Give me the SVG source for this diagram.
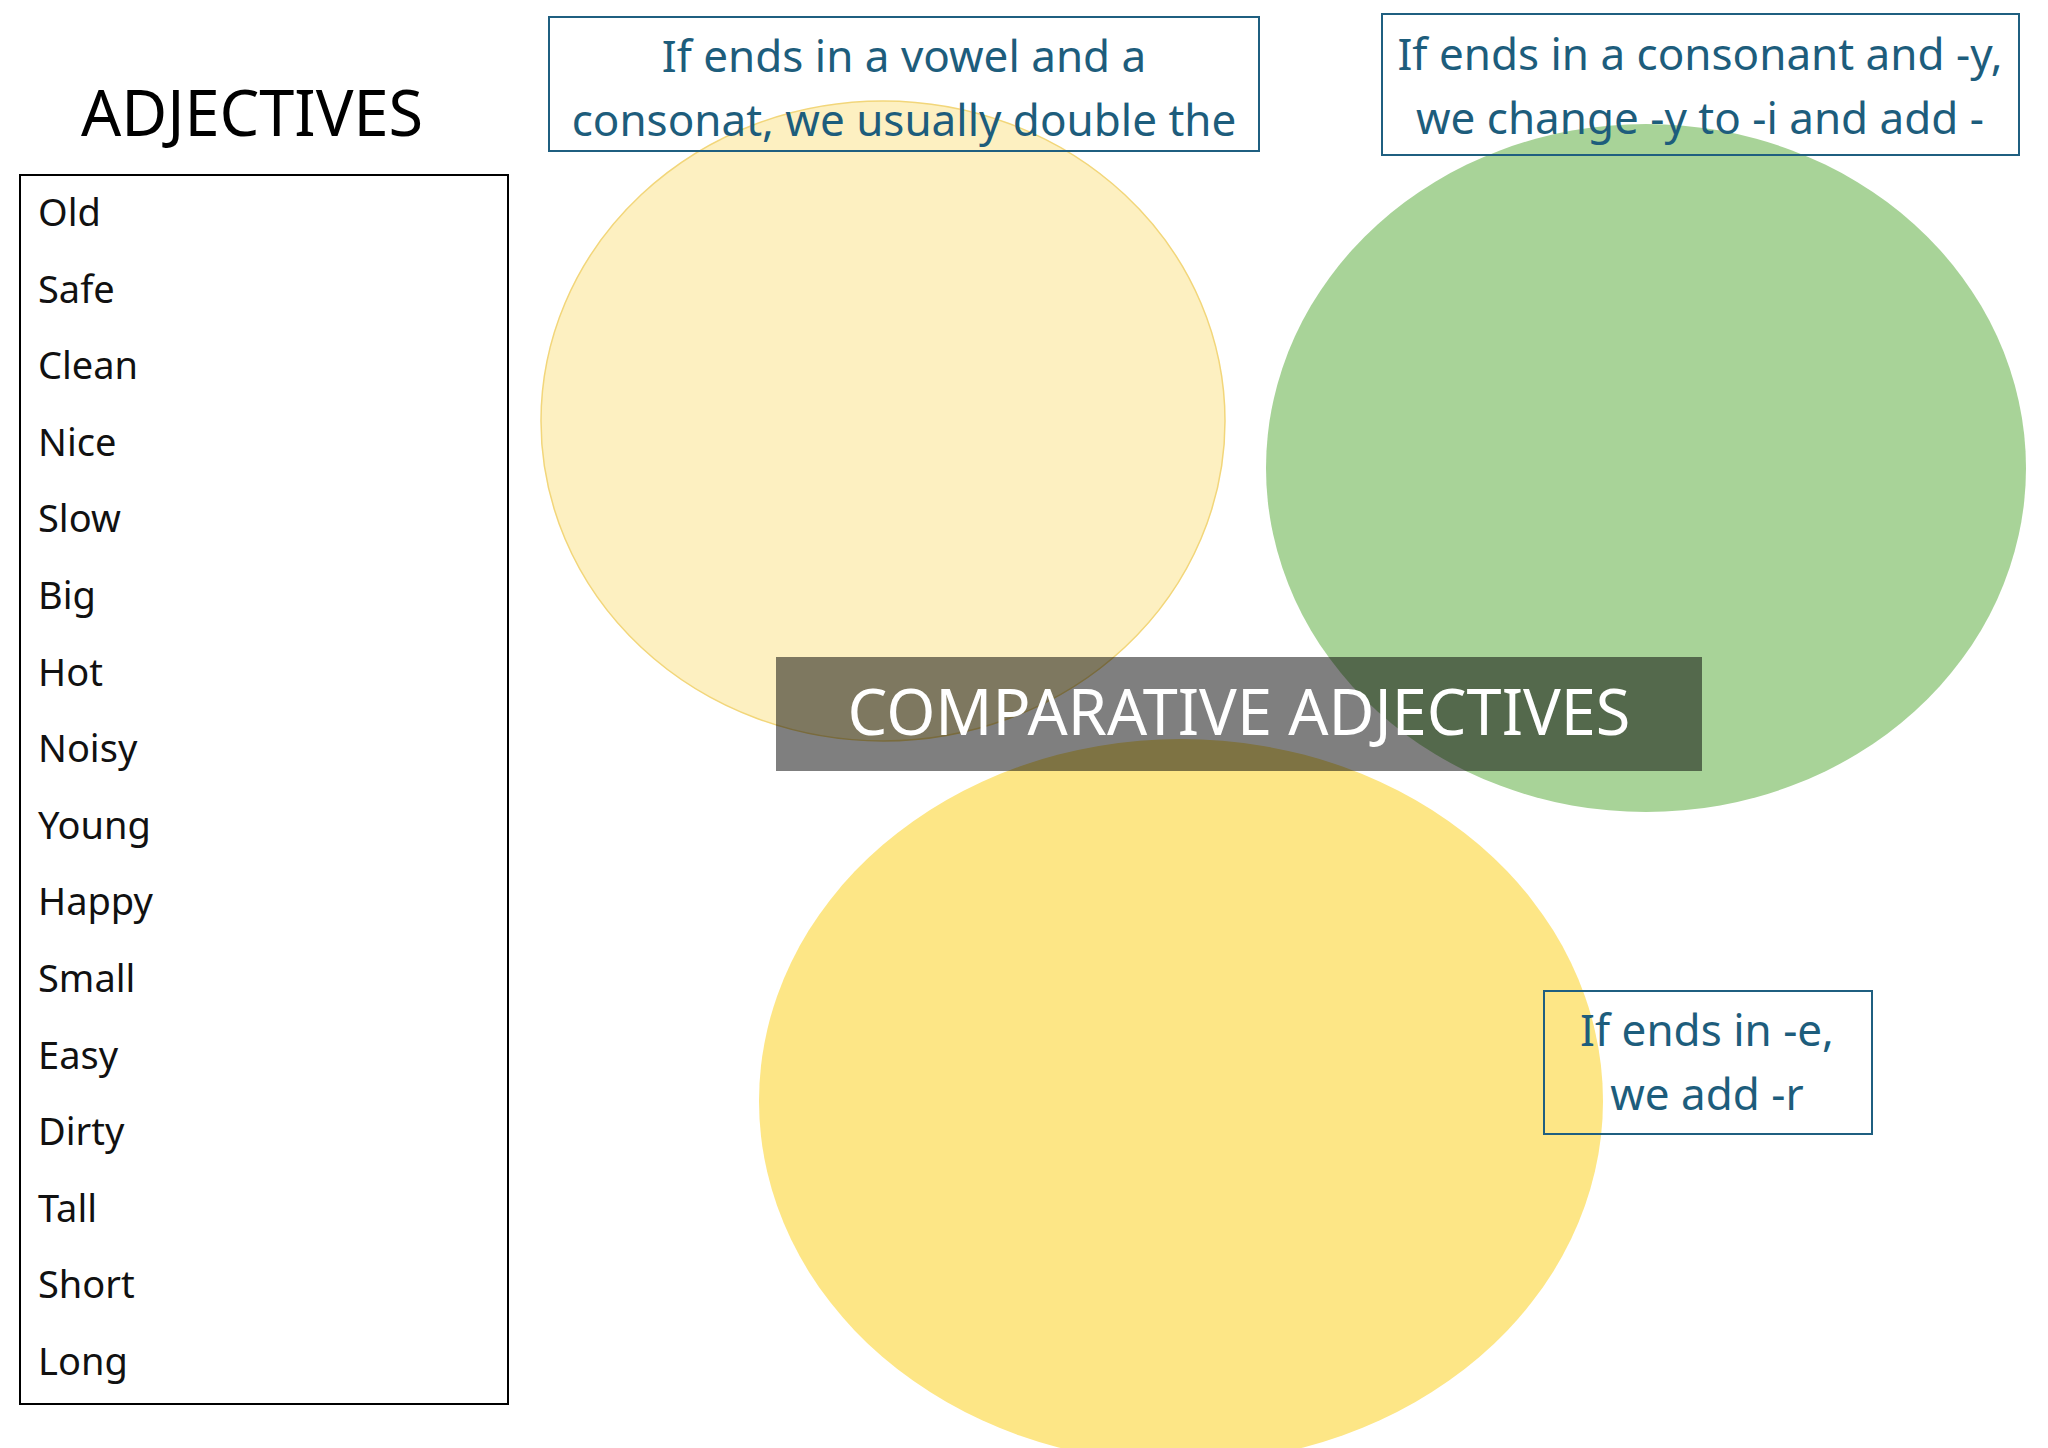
<svg xmlns="http://www.w3.org/2000/svg" width="2048" height="1448" viewBox="0 0 2048 1448">
<style>
.t{font-family:"Noto Sans","Open Sans","DejaVu Sans",sans-serif}
.word{font-size:38px;fill:#111}
.note{font-size:44px;fill:#1d5d7c;text-anchor:middle}
.nbox{fill:none;stroke:#1f5f80;stroke-width:2}
</style>
<rect width="2048" height="1448" fill="#fff"/>
<g id="circle-double">
<ellipse cx="883" cy="421" rx="342" ry="320" fill="#fdf0c1" stroke="#f2d67a" stroke-width="1.5"/>
</g>
<g id="circle-y">
<ellipse cx="1646" cy="468" rx="380" ry="344" fill="#a8d398"/>
</g>
<g id="circle-e">
<ellipse cx="1181" cy="1101" rx="422" ry="362" fill="#fde686"/>
</g>
<g id="title-center">
<rect x="776" y="657" width="926" height="114" fill="#000" fill-opacity="0.5"/>
<text class="t" x="1239" y="735" font-size="63" fill="#fff" text-anchor="middle">COMPARATIVE ADJECTIVES</text>
</g>
<g id="adjectives">
<text class="t" x="252" y="136" font-size="63" fill="#000" text-anchor="middle">ADJECTIVES</text>
<rect x="20" y="175" width="488" height="1229" fill="none" stroke="#000" stroke-width="2"/>
<text class="t word" x="38" y="226">Old</text>
<text class="t word" x="38" y="303">Safe</text>
<text class="t word" x="38" y="379">Clean</text>
<text class="t word" x="38" y="456">Nice</text>
<text class="t word" x="38" y="532">Slow</text>
<text class="t word" x="38" y="609">Big</text>
<text class="t word" x="38" y="686">Hot</text>
<text class="t word" x="38" y="762">Noisy</text>
<text class="t word" x="38" y="839">Young</text>
<text class="t word" x="38" y="915">Happy</text>
<text class="t word" x="38" y="992">Small</text>
<text class="t word" x="38" y="1069">Easy</text>
<text class="t word" x="38" y="1145">Dirty</text>
<text class="t word" x="38" y="1222">Tall</text>
<text class="t word" x="38" y="1298">Short</text>
<text class="t word" x="38" y="1375">Long</text>
</g>
<g id="note-double">
<rect class="nbox" x="549" y="17" width="710" height="134"/>
<text class="t note" x="904" y="72">If ends in a vowel and a</text>
<text class="t note" x="904" y="136">consonat, we usually double the</text>
</g>
<g id="note-y">
<rect class="nbox" x="1382" y="14" width="637" height="141"/>
<text class="t note" x="1700" y="70">If ends in a consonant and -y,</text>
<text class="t note" x="1700" y="134">we change -y to -i and add -</text>
</g>
<g id="note-e">
<rect class="nbox" x="1544" y="991" width="328" height="143"/>
<text class="t note" x="1707" y="1046">If ends in -e,</text>
<text class="t note" x="1707" y="1110">we add -r</text>
</g>
<g id="connectors"></g>
</svg>
